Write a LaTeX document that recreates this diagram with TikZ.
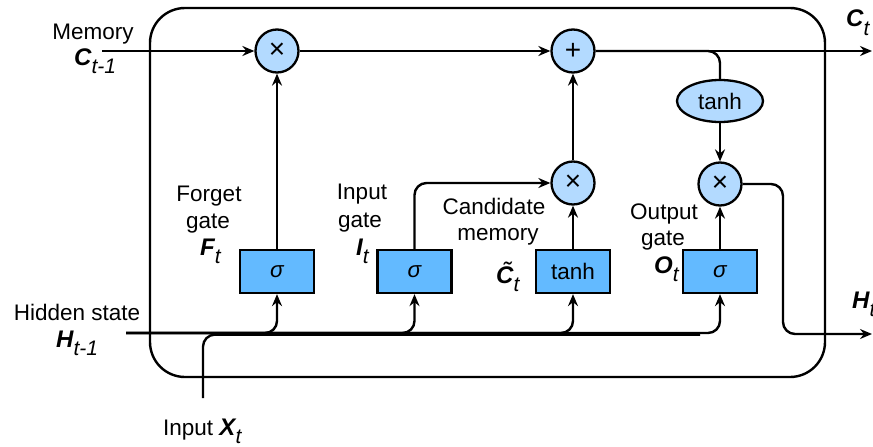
\documentclass[tikz,border=0pt]{standalone}
\usepackage{fontspec}
\setmainfont{Liberation Sans}
\usetikzlibrary{arrows.meta,calc,shapes.geometric}
\definecolor{cfill}{RGB}{179,218,255}
\definecolor{bfill}{RGB}{99,186,255}
\newcommand{\vsym}[2]{{\fontsize{24}{24}\selectfont\bfseries\itshape #1}\raisebox{-0.36em}{\fontsize{21}{21}\selectfont\itshape #2}}
\begin{document}
\begin{tikzpicture}[x=1pt,y=-1pt,line width=2.4pt,
  every node/.style={font=\fontsize{22.5}{27}\selectfont},
  op/.style={circle,draw,fill=cfill,minimum size=43pt,inner sep=0pt,line width=2.3pt,font=\fontsize{28}{28}\selectfont},
  gatebox/.style={rectangle,draw,fill=bfill,minimum width=74pt,minimum height=43pt,inner sep=0pt,line width=2.3pt},
  ellop/.style={ellipse,draw,fill=cfill,minimum width=86pt,minimum height=42pt,inner sep=0pt,line width=2.3pt},
  lbl/.style={anchor=base,inner sep=0pt},
  sym/.style={anchor=base west,inner sep=0pt},
  arr/.style={-{Stealth[length=12pt,width=10pt,inset=4pt]}},
  wire/.style={rounded corners=12pt}]
\useasboundingbox (0,0) rectangle (873,447);
% cell outline
\node[draw,rounded corners=35pt,minimum width=675pt,minimum height=369pt,inner sep=0pt] (cell) at (487.5,192.5) {};
% operators
\node[op] (x1) at (277,51) {×};
\node[op] (plus) at (573,51) {+};
\node[op] (cx) at (573,183) {×};
\node[op] (ox) at (720,184) {×};
\node[ellop] (tanhE) at (720,101) {tanh};
% gates
\node[gatebox] (fsig) at (277,271.5) {\itshape σ};
\node[gatebox] (isig) at (414.5,271.5) {\itshape σ};
\node[gatebox] (ctanh) at (573,271.5) {tanh};
\node[gatebox] (osig) at (720,271.5) {\itshape σ};
% free ends
\coordinate (cin) at (102,51);
\coordinate (cout) at (872,51);
\coordinate (hin) at (126,333);
\coordinate (xin) at (203,398);
\coordinate (xend) at (700,334.6);
\coordinate (hturn) at (783,334);
\coordinate (hout) at (872,334);
% connectors
\draw[arr] (cin) -- (x1);
\draw[arr] (x1) -- (plus);
\draw[arr] (plus) -- (cout);
\draw[wire] (plus.east) -| (tanhE.north);
\draw[arr] (tanhE) -- (ox);
\draw[arr] (fsig) -- (x1);
\draw[arr] (cx) -- (plus);
\draw[arr] (ctanh) -- (cx);
\draw[arr,wire] (isig.north) |- (cx.west);
\draw[arr] (osig) -- (ox);
\draw[arr,wire] (ox.east) -| (hturn) -- (hout);
\draw[arr,wire] (hin) -| (fsig.south);
\draw[arr,wire] (hin) -| (isig.south);
\draw[arr,wire] (hin) -| (ctanh.south);
\draw[arr,wire] (hin) -| (osig.south);
\draw[wire] (xin) |- (xend);
% labels
\node[lbl] (lmem) at (93,39) {Memory};
\node[sym] (lc1) at (73,65) {\vsym{C}{t-1}};
\node[sym] (lct) at (845,27) {\vsym{C}{t}};
\node[lbl] (lf1) at (209,201) {Forget};
\node[lbl] (lf2) at (208,228) {gate};
\node[sym] (lf3) at (199,255) {\vsym{F}{t}};
\node[lbl] (li1) at (362,199) {Input};
\node[lbl] (li2) at (360,227) {gate};
\node[sym] (li3) at (355,255) {\vsym{I}{t}};
\node[lbl] (lc1a) at (494,214) {Candidate};
\node[lbl] (lc2a) at (498,240) {memory};
\node[sym] (lc3a) at (495,283) {\vsym{\~{C}}{t}};
\node[lbl] (lo1) at (664,219) {Output};
\node[lbl] (lo2) at (663,245) {gate};
\node[sym] (lo3) at (653,273) {\vsym{O}{t}};
\node[lbl] (lh1) at (77,320) {Hidden state};
\node[sym] (lh2) at (55,347) {\vsym{H}{t-1}};
\node[sym] (lht) at (851,308) {\vsym{H}{t}};
\node[sym] (lx) at (162,435) {Input \vsym{X}{t}};
\end{tikzpicture}
\end{document}
